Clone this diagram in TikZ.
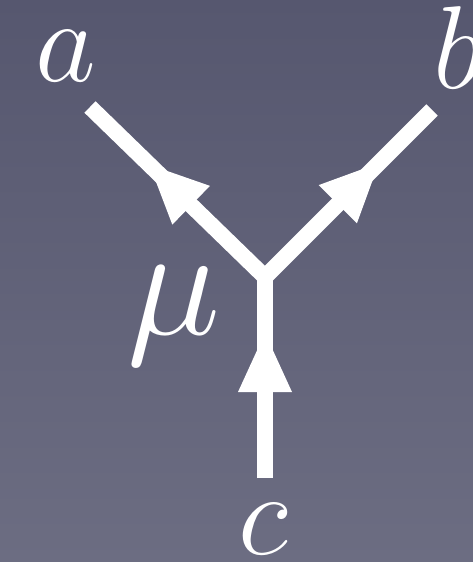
\RequirePackage{fix-cm}
\documentclass[tikz,border=0pt]{standalone}
\usetikzlibrary{calc}
\definecolor{bgtop}{RGB}{86,87,111}
\definecolor{bgbot}{RGB}{108,109,130}
\tikzset{
  leg/.style={draw=white, line width=16pt, line cap=butt, line join=miter},
  headfill/.style={fill=white, draw=none},
  lbl/.style={text=white, inner sep=0pt, anchor=base, font=\fontsize{118}{120}\selectfont},
  lblbig/.style={text=white, inner sep=0pt, anchor=base, font=\fontsize{158}{160}\selectfont},
}
\begin{document}
\begin{tikzpicture}[x=1pt,y=-1pt]
  \useasboundingbox (0,0) rectangle (473,562);
  \shade[top color=bgtop, bottom color=bgbot] (0,0) rectangle (473,562);
  \coordinate (J) at (265,277);
  \coordinate (A) at (90,107);
  \coordinate (B) at (432,110);
  \coordinate (C) at (265,478);
  \draw[leg] (A) -- (J) -- (B);
  \draw[leg] (C) -- ($(J)+(0,-8)$);
  % arrowheads
  \foreach \e/\tipd/\based in {A/161/103, B/161/103} {
    \coordinate (T) at ($(J)!\tipd pt!(\e)$);
    \coordinate (M) at ($(J)!\based pt!(\e)$);
    \fill[headfill] (T) -- ($(M)!27pt!90:(T)$) -- ($(M)!27pt!-90:(T)$) -- cycle;
  }
  \coordinate (Tc) at (265,333);
  \coordinate (Mc) at (265,392);
  \fill[headfill] (Tc) -- ($(Mc)!27pt!90:(Tc)$) -- ($(Mc)!27pt!-90:(Tc)$) -- cycle;
  % labels
  \node[lbl] (la) at (66,81) {$a$};
  \node[lbl] (lb) at (458,88) {$b$};
  \node[lbl] (lc) at (263,554) {$c$};
  \node[lblbig] (lmu) at (174,334) {$\mu$};
\end{tikzpicture}
\end{document}
